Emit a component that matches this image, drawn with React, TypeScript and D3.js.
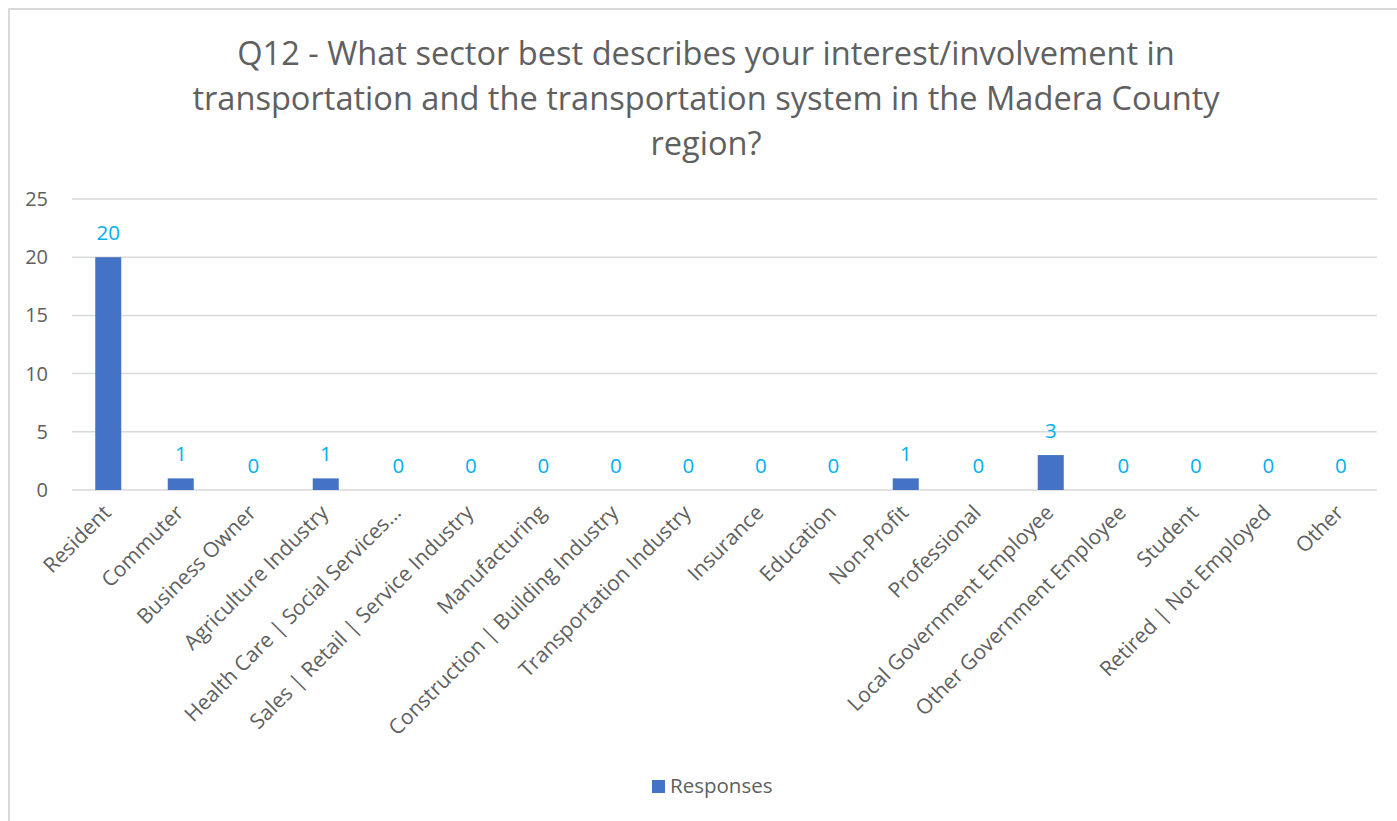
import React from "react";
import * as d3 from "d3";

const titleLines = [
  "Q12 - What sector best describes your interest/involvement in",
  "transportation and the transportation system in the Madera County",
  "region?",
];

const categories = [
  "Resident",
  "Commuter",
  "Business Owner",
  "Agriculture Industry",
  "Health Care | Social Services…",
  "Sales | Retail | Service Industry",
  "Manufacturing",
  "Construction | Building Industry",
  "Transportation Industry",
  "Insurance",
  "Education",
  "Non-Profit",
  "Professional",
  "Local Government Employee",
  "Other Government Employee",
  "Student",
  "Retired | Not Employed",
  "Other",
];

const responses = [20, 1, 0, 1, 0, 0, 0, 0, 0, 0, 0, 1, 0, 3, 0, 0, 0, 0];

const yTicks = [0, 5, 10, 15, 20, 25];

const seriesName = "Responses";

const FONT = "'Open Sans', 'Noto Sans', sans-serif";
const TEXT = "#606060";
const BAR = "#4472C4";
const LABEL = "#00B0F0";
const GRID = "#D9D9D9";

export default function App() {
  const W = 1397;
  const H = 821;
  const x = d3.scaleBand<string>().domain(categories).range([72, 1377]).padding(0);
  const y = d3.scaleLinear().domain([0, 25]).range([490, 199]);
  const barW = 26;

  return (
    <svg
      width={W}
      height={H}
      style={{ position: "fixed", left: 0, top: 0, background: "#fff" }}
      fontFamily={FONT}
    >
      <rect x={0} y={0} width={W} height={H} fill="#fff" />
      <rect x={9} y={9} width={W + 20} height={H + 20} fill="none" stroke={GRID} strokeWidth={2} />

      {titleLines.map((t, i) => (
        <text key={i} x={706} y={65 + i * 45} textAnchor="middle" fontSize={32.6} fill={TEXT}>
          {t}
        </text>
      ))}

      {yTicks.map((t) => (
        <g key={t}>
          <line x1={72} x2={1377} y1={y(t)} y2={y(t)} stroke={GRID} strokeWidth={1.5} />
          <text x={48} y={y(t)} dy="0.35em" textAnchor="end" fontSize={20} fill={TEXT}>
            {t}
          </text>
        </g>
      ))}

      {categories.map((c, i) => {
        const cx = (x(c) as number) + x.bandwidth() / 2;
        const v = responses[i];
        return (
          <g key={c}>
            {v > 0 && (
              <rect x={cx - barW / 2} y={y(v)} width={barW} height={y(0) - y(v)} fill={BAR} />
            )}
            <text x={cx} y={y(v) - 17} textAnchor="middle" fontSize={20.5} fill={LABEL}>
              {v}
            </text>
            <text
              transform={`translate(${cx + 4},${514}) rotate(-45)`}
              textAnchor="end"
              fontSize={21}
              fill={TEXT}
            >
              {c}
            </text>
          </g>
        );
      })}

      <rect x={652} y={780} width={13} height={13} fill={BAR} />
      <text x={670} y={793} fontSize={20.5} fill={TEXT}>
        {seriesName}
      </text>
    </svg>
  );
}
